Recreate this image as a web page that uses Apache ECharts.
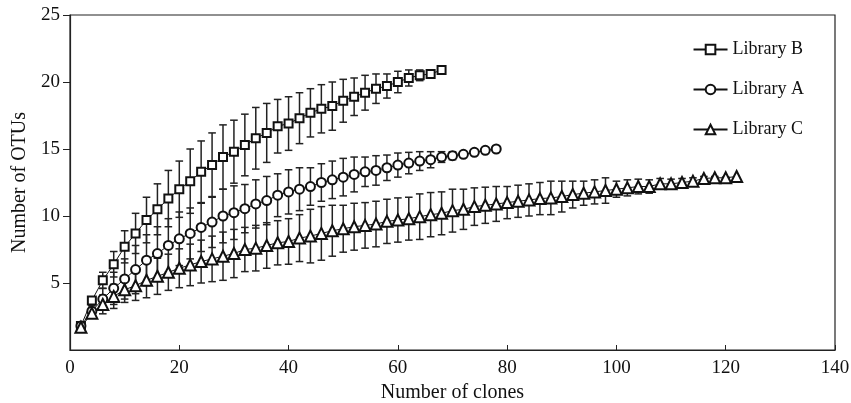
<!DOCTYPE html>
<html>
<head>
<meta charset="utf-8">
<script src="https://cdn.jsdelivr.net/npm/echarts@6/dist/echarts.min.js"></script>
<style>
  html, body { margin: 0; padding: 0; background: #fff; }
  #chart { width: 851px; height: 403px; }
</style>
</head>
<body>
<div id="chart"></div>
<script>
// number of clones sampled
var clones = [2, 4, 6, 8, 10, 12, 14, 16, 18, 20, 22, 24, 26, 28, 30, 32, 34, 36, 38, 40,
  42, 44, 46, 48, 50, 52, 54, 56, 58, 60, 62, 64, 66, 68, 70, 72, 74, 76, 78, 80,
  82, 84, 86, 88, 90, 92, 94, 96, 98, 100, 102, 104, 106, 108, 110, 112, 114, 116, 118, 120, 122]

// Library B
var libB = [1.8, 3.7, 5.2, 6.4, 7.7, 8.7, 9.7, 10.5, 11.3, 12.0,
  12.6, 13.3, 13.8, 14.4, 14.8, 15.3, 15.8, 16.2, 16.7, 16.9,
  17.3, 17.7, 18.0, 18.2, 18.6, 18.9, 19.2, 19.5, 19.7, 20.0,
  20.3, 20.5, 20.6, 20.9]
var libBErr = [0, 0.2, 0.6, 0.95, 1.2, 1.5, 1.7, 1.9, 2.1, 2.1,
  2.4, 2.3, 2.4, 2.4, 2.35, 2.3, 2.3, 2.2, 2.0, 2.0,
  1.9, 1.8, 1.8, 1.8, 1.6, 1.4, 1.3, 1.1, 0.9, 0.8,
  0.6, 0.4, 0.2, 0]

// Library A
var libA = [1.8, 2.9, 3.8, 4.6, 5.3, 6.0, 6.7, 7.2, 7.8, 8.3,
  8.7, 9.15, 9.55, 10.0, 10.25, 10.55, 10.9, 11.15, 11.55, 11.8,
  12.0, 12.2, 12.5, 12.7, 12.9, 13.1, 13.3, 13.4, 13.6, 13.8,
  13.95, 14.1, 14.2, 14.4, 14.5, 14.6, 14.75, 14.9, 15.0]
var libAErr = [0, 0.4, 0.8, 1.2, 1.5, 1.8, 1.9, 2.0, 2.0, 2.0,
  1.9, 1.8, 1.9, 2.0, 2.0, 1.8, 1.8, 1.8, 1.6, 1.65,
  1.6, 1.4, 1.4, 1.4, 1.4, 1.3, 1.1, 1.1, 0.95, 0.9,
  0.8, 0.7, 0.6, 0.4, 0.3, 0.1, 0, 0, 0]

// Library C
var libC = [1.7, 2.75, 3.4, 4.0, 4.5, 4.8, 5.2, 5.5, 5.8, 6.1,
  6.35, 6.6, 6.8, 7.0, 7.2, 7.5, 7.6, 7.8, 8.0, 8.1,
  8.35, 8.5, 8.7, 8.9, 9.05, 9.2, 9.3, 9.4, 9.6, 9.7,
  9.8, 9.95, 10.1, 10.2, 10.4, 10.5, 10.7, 10.8, 10.9, 11.0,
  11.1, 11.2, 11.3, 11.35, 11.45, 11.6, 11.7, 11.8, 11.9, 12.0,
  12.1, 12.2, 12.2, 12.4, 12.4, 12.5, 12.6, 12.8, 12.85, 12.85,
  12.95]
var libCErr = [0, 0.3, 0.7, 0.9, 0.95, 1.1, 1.3, 1.35, 1.35, 1.45,
  1.55, 1.6, 1.7, 1.8, 1.8, 1.65, 1.7, 1.7, 1.65, 1.7,
  1.75, 2.0, 2.0, 1.9, 1.75, 1.75, 1.7, 1.7, 1.65, 1.65,
  1.6, 1.7, 1.65, 1.6, 1.6, 1.5, 1.4, 1.35, 1.3, 1.2,
  1.2, 1.2, 1.2, 1.25, 1.15, 1.0, 0.9, 0.9, 0.95, 0.6,
  0.6, 0.55, 0.5, 0.4, 0.35, 0.3, 0.25, 0.15, 0.1, 0.05,
  0]

var yTicks = [5, 10, 15, 20, 25]

var FONT = "'Liberation Serif', 'Times New Roman', serif"

function points(vals) {
  var out = []
  for (var i = 0; i < vals.length; i++) {
    out.push([clones[i], vals[i]])
  }
  return out
}

function errData(vals, errs) {
  var out = []
  for (var i = 0; i < vals.length; i++) {
    if (errs[i] > 0) out.push([clones[i], vals[i] - errs[i], vals[i] + errs[i]])
  }
  return out
}

// 误差线：竖线 + 上下两个短横
function renderErr(params, api) {
  var x = api.value(0)
  var top = api.coord([x, api.value(2)])
  var bot = api.coord([x, api.value(1)])
  var w = 3.8
  var style = { stroke: '#222', lineWidth: 1.5 }
  return {
    type: 'group',
    children: [
      { type: 'line', shape: { x1: top[0], y1: top[1], x2: bot[0], y2: bot[1] }, style: style },
      { type: 'line', shape: { x1: top[0] - w, y1: top[1], x2: top[0] + w, y2: top[1] }, style: style },
      { type: 'line', shape: { x1: bot[0] - w, y1: bot[1], x2: bot[0] + w, y2: bot[1] }, style: style },
    ],
  }
}

function errSeries(vals, errs) {
  return {
    type: 'custom',
    renderItem: renderErr,
    encode: { x: 0, y: [1, 2] },
    data: errData(vals, errs),
    z: 1,
    silent: true,
  }
}

function lineSeries(name, vals, symbol, size) {
  return {
    name: name,
    type: 'line',
    data: points(vals),
    symbol: symbol,
    symbolSize: size,
    showAllSymbol: true,
    lineStyle: { color: '#111', width: 1 },
    itemStyle: { color: '#111', borderColor: '#111', borderWidth: 1.2 },
    z: 3,
    animation: false,
  }
}

var myChart = echarts.init(document.getElementById('chart'))
var option = {
  animation: false,
  textStyle: { fontFamily: FONT, color: '#111' },
  grid: {
    left: 70,
    right: 16,
    top: 15,
    bottom: 53,
    outerBoundsMode: 'none',
    containLabel: false,
    show: true,
    borderColor: '#222',
    borderWidth: 1.2,
  },
  legend: {
    data: ['Library B', 'Library A', 'Library C'],
    orient: 'vertical',
    right: 42,
    top: 35,
    itemWidth: 34,
    itemHeight: 12,
    itemGap: 21,
    textStyle: { fontFamily: FONT, fontSize: 18, lineHeight: 19, color: '#111' },
  },
  xAxis: {
    type: 'value',
    min: 0,
    max: 140,
    interval: 20,
    name: 'Number of clones',
    nameLocation: 'middle',
    nameGap: 31,
    nameTextStyle: { fontFamily: FONT, fontSize: 20, color: '#111' },
    axisLine: { lineStyle: { color: '#222', width: 1.2 } },
    axisTick: { inside: true, length: 5, lineStyle: { color: '#222' } },
    axisLabel: { fontFamily: FONT, fontSize: 19, color: '#111', margin: 9 },
    splitLine: { show: false },
  },
  yAxis: {
    type: 'value',
    min: 0,
    max: 25,
    interval: 5,
    name: 'Number of OTUs',
    nameLocation: 'middle',
    nameGap: 40,
    nameTextStyle: { fontFamily: FONT, fontSize: 20, color: '#111' },
    axisLine: { show: true, lineStyle: { color: '#222', width: 1.2 } },
    axisTick: { show: true, length: 7, customValues: yTicks, lineStyle: { color: '#222' } },
    axisLabel: {
      fontFamily: FONT,
      fontSize: 19,
      color: '#111',
      margin: 10,
      formatter: function (v) { return v === 0 ? '' : v },
    },
    splitLine: { show: false },
  },
  series: [
    errSeries(libB, libBErr),
    errSeries(libA, libAErr),
    errSeries(libC, libCErr),
    lineSeries('Library B', libB, 'emptyRect', 8),
    lineSeries('Library A', libA, 'emptyCircle', 9),
    lineSeries('Library C', libC, 'emptyTriangle', 11),
  ],
}
myChart.setOption(option)
</script>
</body>
</html>
